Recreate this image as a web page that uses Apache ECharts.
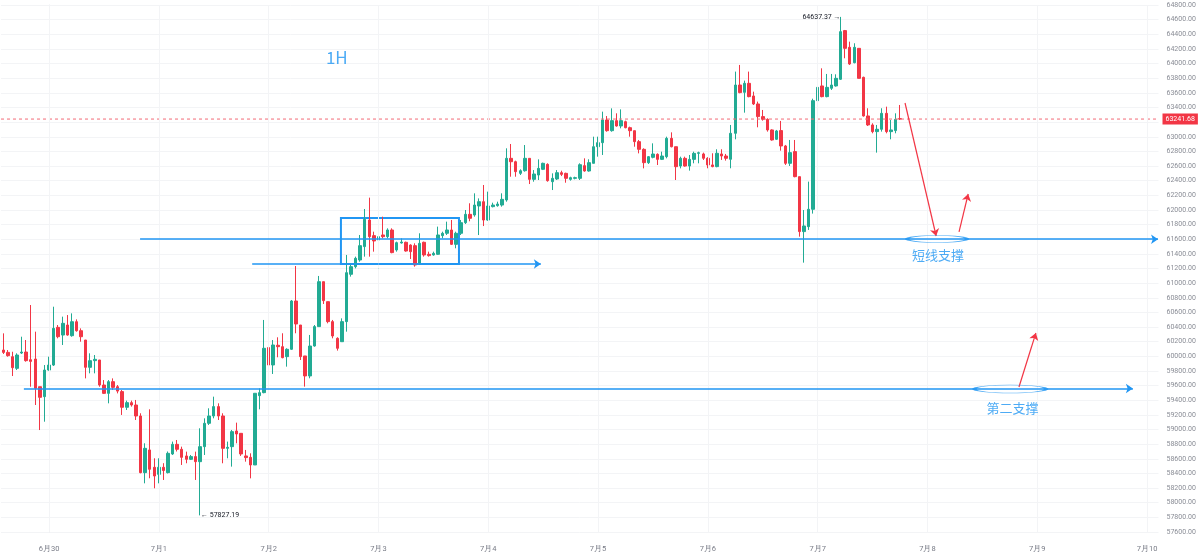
<!DOCTYPE html>
<html><head><meta charset="utf-8">
<script src="https://cdn.jsdelivr.net/npm/echarts@6/dist/echarts.min.js"></script>
<style>html,body{margin:0;padding:0;background:#fff}#c{width:1200px;height:558px}</style>
</head><body><div id="c"></div>
<script>
// hours relative to 6月30 00:00
const FIRST_HOUR = -10, LAST_HOUR = 242;
const dayTicks = [0, 24, 48, 72, 96, 120, 144, 168, 192, 216, 240];
const dayLabels = ['6月30', '7月1', '7月2', '7月3', '7月4', '7月5', '7月6', '7月7', '7月8', '7月9', '7月10'];
// hourly candles starting at hour -10: [open, close, low, high]
const candles = [
[60086,60054,60032,60314],[60054,60009,59995,60086],[59995,59845,59731,60063],[59836,60018,59813,60041],
[60045,60059,60032,60268],[60059,59941,59927,60223],[59954,59931,59585,60701],[59963,59563,59335,60337],
[59585,59440,58993,59585],[59449,59813,59107,59881],
[59813,59881,59804,59995],[59881,60382,59868,60678],[60396,60268,60246,60428],[60291,60451,60155,60542],
[60428,60291,60282,60564],[60282,60473,60268,60587],[60473,60350,60337,60505],[60350,60268,60200,60382],
[60223,59850,59699,60223],[59850,59941,59768,60041],[59941,59959,59768,60018],[59950,59608,59585,59950],
[59608,59494,59485,59676],[59494,59654,59358,59676],[59654,59576,59540,59699],[59585,59525,59494,59608],
[59518,59304,59199,59540],[59304,59367,59267,59395],[59367,59335,59313,59395],[59335,59185,59130,59404],
[59185,58411,58402,59222],[58411,58743,58265,58812],[58721,58457,58334,59276],[58484,58365,58197,58607],
[58388,58484,58265,58607],[58484,58440,58311,58540],[58411,58675,58400,58700],[58666,58798,58652,58835],
[58798,58730,58700,58857],[58730,58620,58516,58766],[58639,58593,58539,58698],[58593,58630,58584,58652],
[58630,58561,58311,58698],[58561,58766,57827.19,59017],[58766,59085,58652,59153],[59085,59185,59062,59290],
[59185,59313,59153,59449],[59313,59185,59130,59358],[59185,58743,58539,59222],[58743,58757,58607,58835],
[58766,58971,58493,58994],[58980,58939,58812,59094],[58948,58666,58639,58948],[58639,58616,58561,58721],
[58620,58516,58333,58675],[58516,59495,58516,59495],[59463,59504,59276,59563],[59504,60110,59495,60497],
[60119,59882,59859,60178],[59882,60155,59759,60223],[60151,60132,59987,60260],[60132,59982,59973,60315],
[59996,60096,59859,60110],[60096,60756,60087,60770],[60756,60442,60315,61234],[60428,59996,59950,60428],
[60005,59732,59586,60005],[59732,60141,59700,60292],[60141,60406,60132,60428],[60406,61020,60406,61098],
[61020,60761,60715,61020],[60747,60474,60451,60747],[60474,60278,60246,60497],[60246,60110,60078,60260],
[60200,60474,60201,60519],[60474,61143,60337,61385],[61121,61225,61089,61271],[61225,61339,61202,61362],
[61316,61512,61293,61658],[61499,61872,61362,62013],[61863,61635,61362,62168],[61649,61576,61430,61703],
[61590,61635,61111,61749],[61658,61635,61612,61908],[61635,61726,61612,61749],[61726,61417,61408,61749],
[61453,61553,61430,61567],[61549,61562,61540,61612],[61558,61439,61430,61567],[61521,61430,61330,61530],
[61512,61248,61225,61544],[61271,61544,61248,61681],[61558,61385,61362,61567],[61394,61376,61362,61430],
[61385,61407,61376,61430],[61394,61658,61385,61772],[61649,61681,61612,61703],[61681,61726,61658,61840],
[61726,61530,61521,61863],[61530,61681,61476,61703],[61681,61826,61658,61863],[61826,61940,61808,61999],
[61940,61886,61845,62091],[61931,62067,61908,62227],[62054,62113,61657,62158],[62113,61862,61780,62341],
[61862,62054,61853,62250],[62045,62067,62035,62099],[62058,62081,62045,62113],[62067,62145,62045,62227],
[62136,62705,62113,62842],[62705,62659,62454,62901],[62659,62523,62454,62673],[62500,62536,62477,62555],
[62536,62705,62523,62887],[62705,62418,62354,62705],[62418,62491,62386,62545],[62477,62568,62409,62691],
[62555,62637,62545,62646],[62623,62400,62386,62637],[62386,62432,62272,62500],[62423,62509,62409,62545],
[62509,62486,62463,62536],[62500,62432,62372,62509],[62418,62441,62400,62454],[62432,62441,62418,62454],
[62432,62618,62409,62637],[62605,62532,62523,62705],[62532,62646,62523,62692],[62637,62864,62637,63001],
[62864,62919,62728,63001],[62919,63229,62751,63343],[63229,63083,63069,63283],[63083,63220,63069,63388],
[63220,63147,63138,63320],[63147,63220,63115,63374],[63206,63124,63115,63220],[63124,63083,63001,63138],
[63083,62933,62864,63083],[62933,62828,62773,62956],[62828,62646,62568,62842],[62646,62728,62628,62737],
[62719,62764,62705,62910],[62760,62691,62614,62773],[62691,62737,62682,62796],[62728,62978,62705,63001],
[62978,62864,62855,63060],[62864,62591,62409,62864],[62600,62705,62568,62728],[62705,62600,62591,62728],
[62600,62691,62537,62751],[62691,62773,62637,62796],[62773,62782,62637,62796],[62765,62706,62683,62783],
[62706,62615,62569,62720],[62615,62592,62583,62774],[62592,62774,62583,62829],[62765,62737,62683,62829],
[62737,62706,62674,62765],[62692,63047,62569,63161],[63047,63707,62965,63890],[63707,63603,63594,63981],
[63607,63730,63329,63767],[63730,63548,63539,63890],[63557,63448,63434,63616],[63448,63275,63129,63480],
[63275,63238,63220,63366],[63238,63093,63070,63252],[63093,62956,62947,63102],[62965,63079,62956,63093],
[63084,62874,62810,63216],[62874,62637,62615,62888],[62637,62783,62601,62956],[62797,62455,62446,62956],
[62455,61704,61635,62455],[61704,61781,61280,61999],[61772,62009,61727,62387],[62009,63493,61950,63520],
[63493,63675,63480,63821],[63694,63548,63539,63935],[63548,63675,63539,63858],[63662,63707,63639,63858],
[63694,63798,63685,63853],[63785,64436,63776,64637.37],[64450,64208,64072,64459],[64222,63994,63981,64299],
[64012,64222,64003,64277],[64208,63798,63798,64208],[63812,63284,63275,63821],[63284,63161,63147,63389],
[63161,63070,63047,63184],[63070,63102,62783,63161],[63102,63320,63070,63389],[63320,63070,63047,63411],
[63070,63093,62965,63229],[63084,63238,63047,63320],[63247,63241.68,63229,63434]
];
const lastPrice = 63241.68;
const highPoint = [173, 64637.37];
const lowPoint = [33, 57827.19];
// annotation drawings in (hour, price)
const supportLines = [
  [[19.9, 61600], [242.4, 61600]],
  [[44.4, 61262], [107.5, 61262]],
  [[-5.5, 59560], [236.9, 59560]]
];
const rangeBox = [[63.8, 61890], [89.6, 61262]];
const redArrows = [
  [[187.1, 63461], [193.9, 61644]],
  [[198.9, 61699], [200.9, 62218]],
  [[212.0, 59581], [215.7, 60319]]
];
const ellipses = [[194.1, 61603], [210.1, 59554]];
const ellipseSizes = [[60, 7], [72, 8]];
const texts = [
  {pos: [194.3, 61390], text: '短线支撑', size: 13},
  {pos: [210.6, 59300], text: '第二支撑', size: 13},
  {pos: [62.9, 64076], text: '1H', size: 17}
];

const cats = [];
for (let h = FIRST_HOUR; h <= LAST_HOUR; h++) cats.push(String(h));

const BLUE = '#2196f3', RED = '#f23645', GREEN = '#22ab94';
const FONT = 'Roboto, "Liberation Sans", sans-serif';
const chart = echarts.init(document.getElementById('c'));
chart.setOption({
  animation: false,
  backgroundColor: '#ffffff',
  grid: {left: 1, right: 41.5, top: 5, bottom: 26},
  xAxis: [{
    type: 'category', data: cats, boundaryGap: true,
    axisLine: {show: false}, axisTick: {show: false}, splitLine: {show: false},
    axisLabel: {
      interval: (i, v) => dayTicks.indexOf(Number(v)) >= 0,
      formatter: v => { const k = dayTicks.indexOf(Number(v)); return k >= 0 ? dayLabels[k] : ''; },
      color: '#787b86', fontSize: 7.5, margin: 13, fontFamily: FONT
    }
  }, {
    type: 'value', min: FIRST_HOUR - 0.5, max: LAST_HOUR + 0.5, show: false
  }],
  yAxis: {
    type: 'value', position: 'right', min: 57600, max: 64800, interval: 200,
    axisLine: {show: true, lineStyle: {color: '#e9ebf0'}}, axisTick: {show: false},
    splitLine: {show: true, lineStyle: {color: '#f3f4f6', width: 1}},
    axisLabel: {formatter: v => v.toFixed(2), color: '#8a8d96', fontSize: 7, margin: 8, fontFamily: FONT}
  },
  series: [
    {
      type: 'line', xAxisIndex: 1, data: [], z: 0, silent: true,
      markLine: {
        silent: true, symbol: 'none', label: {show: false},
        lineStyle: {color: '#f3f4f6', type: 'solid', width: 1},
        data: dayTicks.map(h => ({xAxis: h}))
      }
    },
    {
      type: 'line', xAxisIndex: 1, z: 4, silent: true, symbol: 'none',
      color: RED,
      data: [[FIRST_HOUR - 0.5, lastPrice], [LAST_HOUR + 0.5, lastPrice]],
      lineStyle: {color: '#f36b77', type: [3, 3], width: 1},
      endLabel: {show: true, formatter: () => lastPrice.toFixed(2), color: '#fff',
        backgroundColor: RED, padding: [2, 3, 2, 3], fontSize: 7, distance: 4, fontFamily: FONT}
    },
    {
      type: 'candlestick', data: candles, barWidth: 3, z: 3,
      itemStyle: {color: GREEN, color0: RED, borderColor: GREEN, borderColor0: RED, borderWidth: 1},
      markPoint: {
        silent: true, symbol: 'circle', symbolSize: 0,
        data: [
          {coord: [String(highPoint[0]), highPoint[1]], label: {show: true, position: 'left', distance: 0,
            formatter: highPoint[1].toFixed(2) + ' →', color: '#131722', fontSize: 7, fontFamily: FONT}},
          {coord: [String(lowPoint[0]), lowPoint[1]], label: {show: true, position: 'right', distance: 1,
            formatter: '← ' + lowPoint[1].toFixed(2), color: '#131722', fontSize: 7, fontFamily: FONT}}
        ]
      }
    },
    {
      type: 'scatter', xAxisIndex: 1, z: 5, silent: true,
      data: ellipses.map((p, i) => ({value: p, symbolSize: ellipseSizes[i]})),
      symbol: 'circle',
      itemStyle: {color: 'rgba(0,0,0,0)', borderColor: BLUE, borderWidth: 1.5},
      markLine: {
        silent: true, symbol: ['none', 'arrow'], symbolSize: 7,
        label: {show: false},
        lineStyle: {color: BLUE, type: 'solid', width: 1.5},
        data: supportLines.map(l => [{coord: l[0]}, {coord: l[1]}])
          .concat(redArrows.map(l => [{coord: l[0], lineStyle: {color: RED, width: 1.2}, symbolSize: 6},
            {coord: l[1], lineStyle: {color: RED, width: 1.2}}]))
      },
      markArea: {
        silent: true,
        itemStyle: {color: 'rgba(0,0,0,0)', borderColor: BLUE, borderWidth: 2},
        data: [[{coord: rangeBox[0]}, {coord: rangeBox[1]}]]
      }
    },
    {
      type: 'scatter', xAxisIndex: 1, z: 6, silent: true, symbolSize: 1,
      itemStyle: {color: 'rgba(0,0,0,0)'},
      data: texts.map(t => ({value: t.pos, label: {show: true, position: 'inside', formatter: t.text,
        color: BLUE, fontSize: t.size, fontFamily: '"Noto Sans CJK SC", Roboto, sans-serif'}}))
    }
  ]
});
</script>
</body></html>
